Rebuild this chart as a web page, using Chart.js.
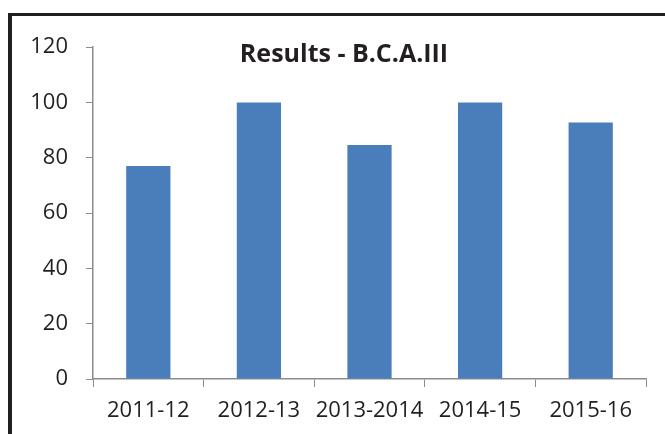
<!DOCTYPE html>
<html>
<head>
<meta charset="utf-8">
<script src="https://cdn.jsdelivr.net/npm/chart.js@4"></script>
<style>
html,body{margin:0;padding:0;background:#fff;width:665px;height:434px;overflow:hidden}
#box{position:absolute;left:8px;top:13px;right:0;bottom:0;border-left:4px solid #231f20;border-top:3px solid #231f20}
canvas{display:block}
</style>
</head>
<body>
<div id="box"><canvas id="c" width="653" height="418"></canvas></div>
<script>
const years = ['2011-12','2012-13','2013-2014','2014-15','2015-16'];
const results = [77, 100, 84.6, 100, 92.8];
const yTicks = [0, 20, 40, 60, 80, 100, 120];
const chartTitle = 'Results - B.C.A.III';

const font = {family:'"Open Sans", sans-serif', size:22};
const axisColor = '#8c8c8c';

// title sits inside the plot area, so draw it ourselves
const titlePlugin = {
    id:'innerTitle',
    afterDraw(chart){
        const ctx = chart.ctx;
        ctx.save();
        ctx.font = 'bold 25px "Open Sans", sans-serif';
        ctx.fillStyle = '#231f20';
        ctx.textAlign = 'center'; ctx.textBaseline = 'alphabetic';
        ctx.fillText(chartTitle, 332, 46);
        ctx.restore();
    }
};

new Chart(document.getElementById('c'), {
    type:'bar',
    data:{labels:years, datasets:[{data:results, backgroundColor:'#4a7ebb', categoryPercentage:1, barPercentage:0.4}]},
    options:{
        responsive:false, animation:false,
        layout:{padding:{left:0, right:19, top:27, bottom:0}},
        plugins:{legend:{display:false}, tooltip:{enabled:false}},
        scales:{
            x:{
                grid:{drawOnChartArea:false, offset:true, tickLength:8, color:axisColor},
                border:{color:axisColor, width:1.5},
                ticks:{font, color:'#231f20', padding:11, maxRotation:0, autoSkip:false},
                afterFit(s){ s.height = 55; }
            },
            y:{
                min:0, max:120,
                afterBuildTicks(s){ s.ticks = yTicks.map(v => ({value:v})); },
                grid:{drawOnChartArea:false, tickLength:7, color:axisColor},
                border:{color:axisColor, width:1.5},
                ticks:{font, color:'#231f20', padding:18},
                afterFit(s){ s.width = 81; }
            }
        }
    },
    plugins:[titlePlugin]
});
</script>
</body>
</html>
